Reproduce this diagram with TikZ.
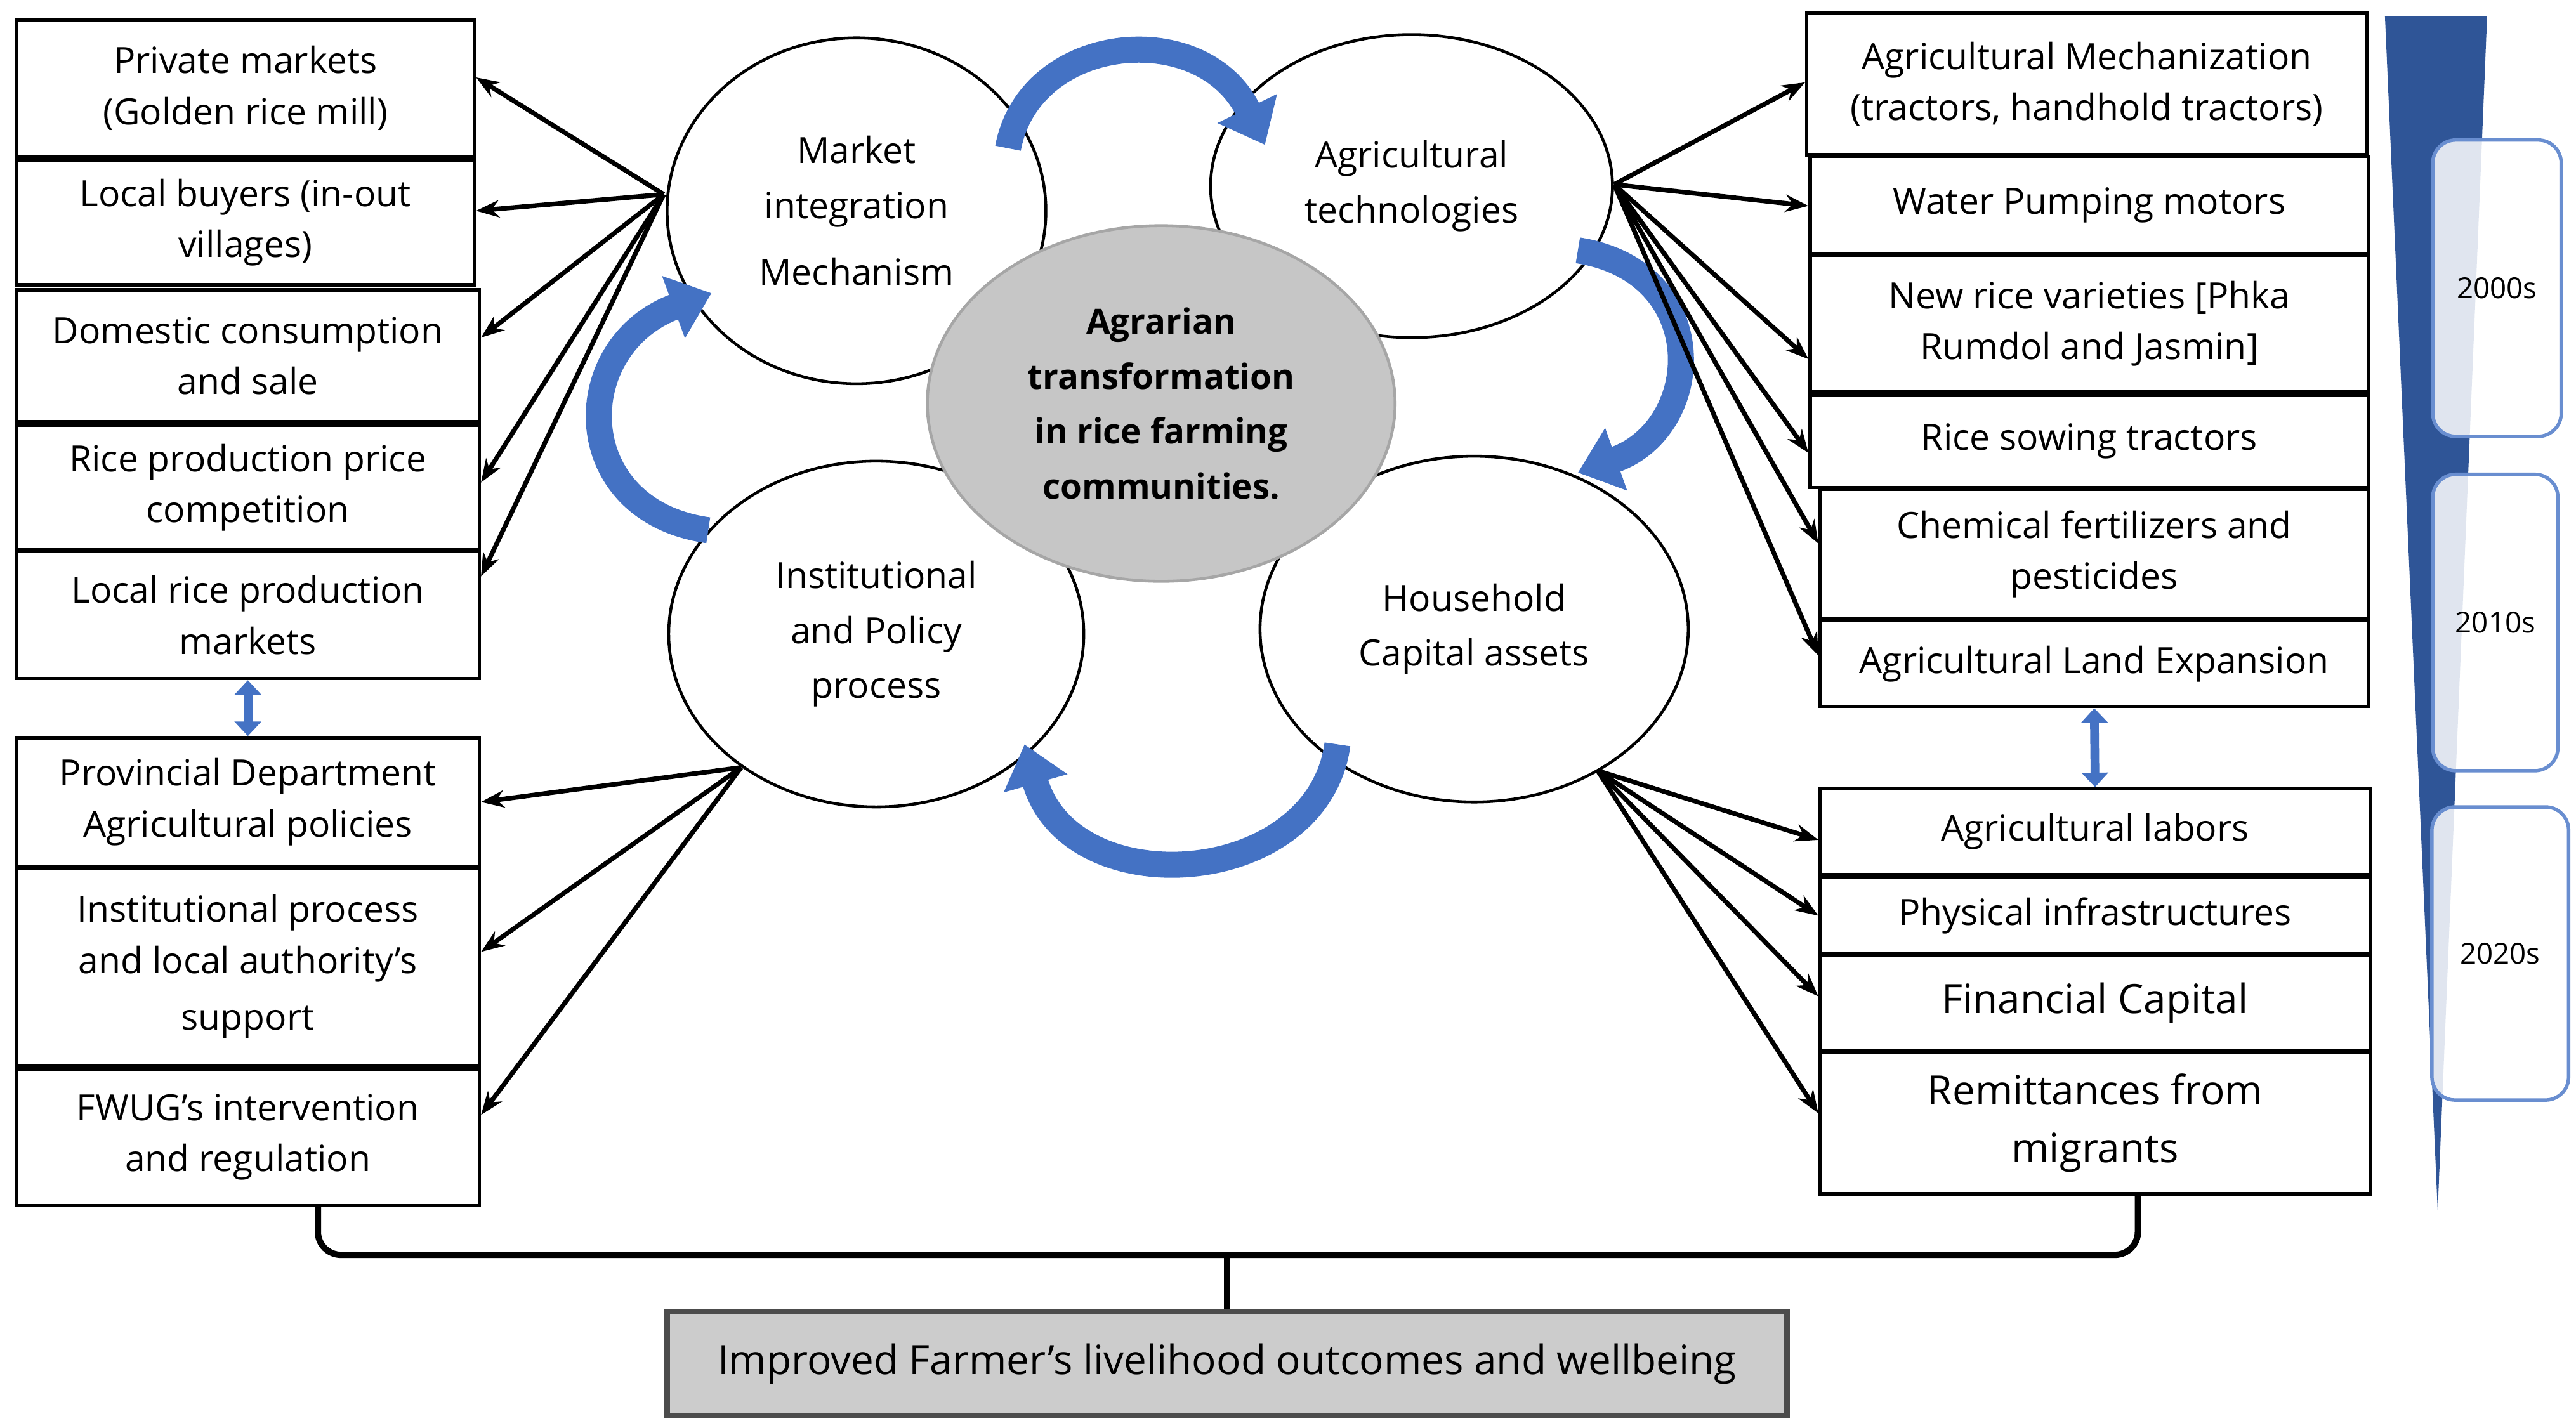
\documentclass[tikz,border=0pt]{standalone}
\usepackage{fontspec}
\setmainfont{Open Sans}
\usetikzlibrary{arrows.meta,positioning,shapes.geometric}
\definecolor{arrblue}{HTML}{4472C4}
\definecolor{darkblue}{HTML}{2F5597}
\begin{document}
\begin{tikzpicture}[x=0.02cm,y=-0.02cm,
 box/.style={draw,line width=1.2pt,inner sep=0pt,align=center,font=\fontsize{12.5}{17.6}\selectfont},
 ell/.style={draw,line width=1pt,ellipse,inner sep=0pt,align=center,font=\fontsize{12.5}{19}\selectfont},
 con/.style={-{Stealth[length=8pt,width=6pt]},line width=1.6pt},
 curv/.style={-{Triangle[length=14pt,width=22pt]},line width=9pt,arrblue},
 dbl/.style={{Triangle[length=5pt,width=9pt]}-{Triangle[length=5pt,width=9pt]},line width=3pt,arrblue},
 yr/.style={draw=arrblue!80,line width=1.2pt,rounded corners=8pt,fill=white,fill opacity=0.85,text opacity=1,font=\fontsize{10}{12}\selectfont}]
\useasboundingbox (0,0) rectangle (1564,867);
% timeline
\fill[darkblue] (1448,10) -- (1510,10) -- (1480,735) -- cycle;
\node[yr,minimum width=78*0.02cm,minimum height=180*0.02cm] (t1) at (1516,175) {2000s};
\node[yr,minimum width=76*0.02cm,minimum height=180*0.02cm] (t2) at (1515,378) {2010s};
\node[yr,minimum width=83*0.02cm,minimum height=178*0.02cm] (t3) at (1518,579) {2020s};
% left boxes
\newcommand{\bx}[6]{\node[box,minimum width={(#4-#2)*0.02cm},minimum height={(#5-#3)*0.02cm}] (#1) at ({(#2+#4)/2},{(#3+#5)/2}) {#6};}
\bx{l1}{10}{12}{288}{95}{Private markets\\(Golden rice mill)}
\bx{l2}{10}{97}{288}{173}{Local buyers (in-out\\villages)}
\bx{l3}{10}{176}{291}{256}{Domestic consumption\\and sale}
\bx{l4}{10}{258}{291}{334}{Rice production price\\competition}
\bx{l5}{10}{335}{291}{412}{Local rice production\\markets}
\bx{l6}{10}{448}{291}{526}{Provincial Department\\Agricultural policies}
\bx{l7}{10}{527}{291}{647}{Institutional process\\and local authority’s\\[2pt]support}
\bx{l8}{10}{649}{291}{732}{FWUG’s intervention\\and regulation}
% right boxes
\bx{r1}{1097}{8}{1437}{94}{Agricultural Mechanization\\(tractors, handhold tractors)}
\bx{r2}{1099}{95}{1438}{154}{Water Pumping motors}
\bx{r3}{1099}{155}{1438}{238}{New rice varieties [Phka\\Rumdol and Jasmin]}
\bx{r4}{1099}{240}{1438}{296}{Rice sowing tractors}
\bx{r5}{1105}{297}{1438}{376}{Chemical fertilizers and\\pesticides}
\bx{r6}{1105}{377}{1438}{429}{Agricultural Land Expansion}
\bx{r7}{1105}{479}{1439}{531}{Agricultural labors}
\bx{r8}{1105}{533}{1439}{579}{Physical infrastructures}
\node[box,font=\fontsize{14}{20}\selectfont,minimum width=334*0.02cm,minimum height=58*0.02cm] (r9) at (1272,609) {Financial Capital};
\node[box,font=\fontsize{14}{20}\selectfont,minimum width=334*0.02cm,minimum height=86*0.02cm] (r10) at (1272,682) {Remittances from\\migrants};
% ellipses
\node[ell,minimum width=230*0.02cm,minimum height=210*0.02cm] (em) at (520,128) {Market\\integration\\[4pt]Mechanism};
\node[ell,minimum width=244*0.02cm,minimum height=184*0.02cm] (et) at (857,113) {Agricultural\\technologies};
\node[ell,minimum width=252*0.02cm,minimum height=210*0.02cm] (ei) at (532,385) {Institutional\\and Policy\\process};
\node[ell,minimum width=260*0.02cm,minimum height=210*0.02cm] (eh) at (895,382) {Household\\Capital assets};
\node[ell,draw=gray!70,fill=gray!45,minimum width=284*0.02cm,minimum height=216*0.02cm,font=\bfseries\fontsize{12}{19}\selectfont] (ec) at (705,245) {Agrarian\\transformation\\in rice farming\\communities.};
% curved arrows
\draw[curv] (612,90) .. controls (625,20) and (730,10) .. (768,88);
\draw[curv] (958,152) .. controls (1040,165) and (1035,260) .. (958,287);
\draw[curv] (812,452) .. controls (800,540) and (650,550) .. (622,452);
\draw[curv] (430,322) .. controls (345,310) and (345,210) .. (432,178);
% double arrows
\draw[dbl] (l5.south) -- (l6.north);
\draw[dbl] (r6.south) -- (r7.north);
% connectors
\coordinate (pm) at (403,118);
\foreach \t/\y in {l1/47,l2/128,l3/205,l4/293,l5/350} \draw[con] (pm) -- (\t.east |- 0,\y);
\coordinate (pt) at (980,112);
\foreach \t/\y in {r1/50,r2/125,r3/218,r4/275,r5/330,r6/398} \draw[con] (pt) -- (\t.west |- 0,\y);
\coordinate (pi) at (450,466);
\foreach \t/\y in {l6/487,l7/578,l8/677} \draw[con] (pi) -- (\t.east |- 0,\y);
\coordinate (ph) at (970,468);
\foreach \t/\y in {r7/510,r8/556,r9/605,r10/676} \draw[con] (ph) -- (\t.west |- 0,\y);
% bottom
\node[draw=gray!60!black,line width=2pt,fill=gray!40,minimum width=680*0.02cm,minimum height=63*0.02cm,font=\fontsize{14}{20}\selectfont] (bt) at (745,828) {Improved Farmer’s livelihood outcomes and wellbeing};
\draw[line width=2.2pt,rounded corners=8pt] (l8.south -| 193,0) -- (193,762) -- (1298,762) -- (r10.south -| 1298,0);
\draw[line width=2.2pt,rounded corners=8pt] (bt.north) -- (745,762);
\end{tikzpicture}
\end{document}
